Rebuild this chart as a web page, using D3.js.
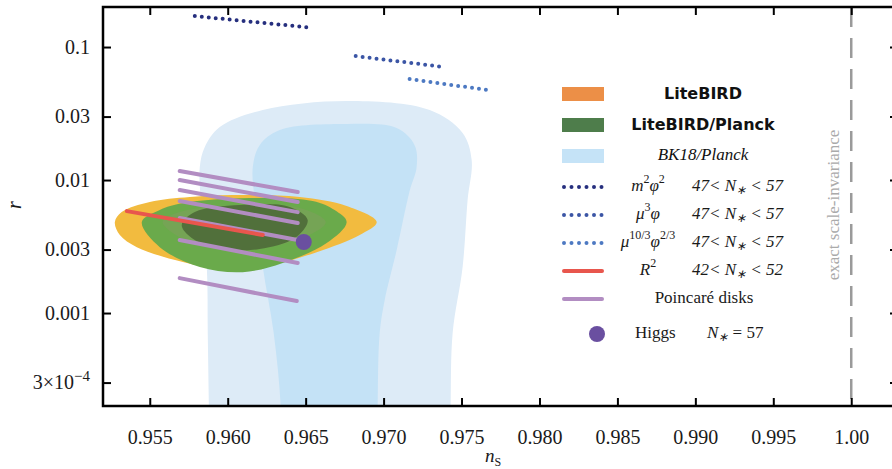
<!DOCTYPE html>
<html>
<head>
<meta charset="utf-8">
<script src="https://cdn.jsdelivr.net/npm/d3@7/dist/d3.min.js"></script>
<style>
  body { margin: 0; background: #fff; }
</style>
</head>
<body>
<svg id="chart" width="892" height="469"></svg>
<script>
// ---- data (ns, r) ----
const xTicks = [0.955, 0.960, 0.965, 0.970, 0.975, 0.980, 0.985, 0.990, 0.995, 1.00];
const xTickLabels = ['0.955', '0.960', '0.965', '0.970', '0.975', '0.980', '0.985', '0.990', '0.995', '1.00'];
const yTicks = [3e-4, 0.001, 0.003, 0.01, 0.03, 0.1];
const yTickLabels = ['3×10^-4', '0.001', '0.003', '0.01', '0.03', '0.1'];

const bk18Outer = [[0.95885, 6e-5], [0.95879, 2e-4], [0.95872, 7.07e-4], [0.95866, 0.00222], [0.95827, 0.00708], [0.95821, 0.01253],
  [0.95853, 0.0177], [0.95949, 0.0250], [0.96225, 0.0336], [0.96763, 0.0393], [0.97296, 0.0336], [0.97507, 0.0226],
  [0.97565, 0.01413], [0.97539, 0.00708], [0.97507, 0.00222], [0.97443, 7.07e-4], [0.97430, 2e-4], [0.97424, 6e-5]];
const bk18Inner = [[0.96345, 6e-5], [0.96340, 2e-4], [0.96295, 7.07e-4], [0.96225, 0.00222], [0.96173, 0.00708], [0.96161, 0.01253],
  [0.96205, 0.0183], [0.96334, 0.0238], [0.96763, 0.0264], [0.97084, 0.0246], [0.97199, 0.0183], [0.97212, 0.01253],
  [0.97167, 0.00826], [0.97084, 0.00298], [0.97007, 0.00125], [0.96975, 7.07e-4], [0.96962, 2e-4], [0.96960, 6e-5]];
const liteBird = [[0.95276, 0.00483], [0.95320, 0.00574], [0.955, 0.00683], [0.95757, 0.00745], [0.96032, 0.00771],
  [0.96462, 0.00745], [0.96763, 0.00638], [0.96956, 0.00483], [0.96847, 0.00386], [0.96571, 0.00287], [0.96250, 0.00226],
  [0.95949, 0.00218], [0.95712, 0.00242], [0.95417, 0.00313], [0.95308, 0.00386]];
const liteBirdPlanck = [[0.95449, 0.00483], [0.95564, 0.00594], [0.95712, 0.00671], [0.96141, 0.00732], [0.96545, 0.00695],
  [0.96686, 0.00594], [0.96763, 0.00483], [0.96635, 0.00336], [0.96353, 0.00238], [0.96096, 0.00203], [0.95821, 0.00222],
  [0.95564, 0.00313]];
const liteBirdPlanckMid = [[0.95583, 0.00483], [0.95692, 0.00574], [0.96077, 0.00649], [0.96462, 0.00616], [0.96629, 0.00483],
  [0.96494, 0.00373], [0.96141, 0.00303], [0.95757, 0.00342]];
const liteBirdPlanckCore = [[0.95705, 0.00459], [0.95789, 0.00574], [0.96077, 0.00649], [0.96398, 0.00627], [0.96513, 0.00500],
  [0.96430, 0.00366], [0.96205, 0.00303], [0.95949, 0.00303], [0.95769, 0.00366]];

const poincare = [
  [[0.95692, 0.01169], [0.96449, 0.00812]],
  [[0.95692, 0.0100], [0.96449, 0.00683]],
  [[0.95692, 0.00841], [0.96449, 0.00574]],
  [[0.95692, 0.00695], [0.96449, 0.00475]],
  [[0.95692, 0.00518], [0.96449, 0.00354]],
  [[0.95692, 0.00354], [0.96449, 0.00238]],
  [[0.95692, 0.00183], [0.96443, 0.00123]]
];
const r2Line = [[0.95353, 0.00584], [0.96225, 0.00386]];
const higgs = [0.96488, 0.00342];
const m2phi2 = [[0.95789, 0.171], [0.96513, 0.1406]];
const mu3phi = [[0.96821, 0.0855], [0.97373, 0.0711]];
const mu103phi23 = [[0.97167, 0.0574], [0.97668, 0.0475]];
const scaleInvariance = 1.0;

const serif = '"Liberation Serif", "Times New Roman", serif';
const sans = '"DejaVu Sans", Verdana, sans-serif';

const svg = d3.select('#chart');
const x = d3.scaleLinear().domain([0.952, 1.003]).range([103, 898]);
const y = d3.scaleLog().domain([2e-4, 0.2]).range([406, 7]);

svg.append('defs').append('clipPath').attr('id', 'plot-clip')
  .append('rect').attr('x', 103).attr('y', 7).attr('width', 795).attr('height', 399);

const plot = svg.append('g').attr('clip-path', 'url(#plot-clip)');

const blob = d3.line().x(d => x(d[0])).y(d => y(d[1])).curve(d3.curveCatmullRomClosed.alpha(0.5));
const seg = d3.line().x(d => x(d[0])).y(d => y(d[1]));

// contours
plot.append('path').attr('d', blob(bk18Outer)).attr('fill', '#ddebf7');
plot.append('path').attr('d', blob(bk18Inner)).attr('fill', '#c4e2f6');
plot.append('path').attr('d', blob(liteBird)).attr('fill', '#f2bb3f');
plot.append('path').attr('d', blob(liteBirdPlanck)).attr('fill', '#6aaa4b');
plot.append('path').attr('d', blob(liteBirdPlanckMid)).attr('fill', '#75a455');
plot.append('path').attr('d', blob(liteBirdPlanckCore)).attr('fill', '#51703b');

// Poincaré disks
plot.selectAll('.poincare').data(poincare).enter().append('path')
  .attr('class', 'poincare')
  .attr('d', seg)
  .attr('stroke', '#b28dc2').attr('stroke-width', 4).attr('stroke-linecap', 'round').attr('fill', 'none');

// R^2
plot.append('path').attr('d', seg(r2Line))
  .attr('stroke', '#e8564d').attr('stroke-width', 4).attr('stroke-linecap', 'round').attr('fill', 'none');

// Higgs
plot.append('circle').attr('cx', x(higgs[0])).attr('cy', y(higgs[1])).attr('r', 8).attr('fill', '#6a4fa0');

// dotted model lines
[[m2phi2, '#262f7e'], [mu3phi, '#3b55a5'], [mu103phi23, '#4d79c2']].forEach(([d, c]) => {
  plot.append('path').attr('d', seg(d))
    .attr('stroke', c).attr('stroke-width', 4).attr('stroke-linecap', 'round')
    .attr('stroke-dasharray', '0 7').attr('fill', 'none');
});

// exact scale invariance
plot.append('line')
  .attr('x1', x(scaleInvariance)).attr('x2', x(scaleInvariance))
  .attr('y1', 7).attr('y2', 406)
  .attr('stroke', '#9a9a9a').attr('stroke-width', 2.5).attr('stroke-dasharray', '20 11');
svg.append('text')
  .attr('transform', `translate(${x(scaleInvariance) - 12},205) rotate(-90)`)
  .attr('text-anchor', 'middle')
  .attr('font-family', serif).attr('font-size', 17).attr('fill', '#aaaaaa')
  .text('exact scale-invariance');

// axes (ticks point inward)
function styleAxis(g) {
  g.select('.domain').remove();
  g.selectAll('line').attr('stroke', '#000').attr('stroke-width', 2);
  g.selectAll('text').attr('font-family', serif).attr('font-size', 20).attr('fill', '#1a1a1a');
}
svg.append('g').attr('transform', 'translate(0,406)')
  .call(d3.axisBottom(x).tickValues(xTicks).tickSizeInner(-8).tickSizeOuter(0).tickPadding(24)
    .tickFormat((d, i) => xTickLabels[i]))
  .call(styleAxis);
svg.append('g').attr('transform', 'translate(0,7)')
  .call(d3.axisTop(x).tickValues(xTicks).tickSizeInner(-8).tickSizeOuter(0).tickFormat(''))
  .call(styleAxis);
const yAxis = svg.append('g').attr('transform', 'translate(103,0)')
  .call(d3.axisLeft(y).tickValues(yTicks).tickSizeInner(-8).tickSizeOuter(0).tickPadding(13)
    .tickFormat((d, i) => yTickLabels[i].split('^')[0]))
  .call(styleAxis);
yAxis.selectAll('.tick text').each(function (d, i) {
  const parts = yTickLabels[i].split('^');
  if (parts.length > 1) {
    d3.select(this).append('tspan').attr('dy', '-0.55em').attr('font-size', 15).text(parts[1].replace('-', '−'));
  }
});
svg.append('g').attr('transform', 'translate(898,0)')
  .call(d3.axisRight(y).tickValues(yTicks).tickSizeInner(-8).tickSizeOuter(0).tickFormat(''))
  .call(styleAxis);

// frame
svg.append('rect').attr('x', 103).attr('y', 7).attr('width', 795).attr('height', 399)
  .attr('fill', 'none').attr('stroke', '#000').attr('stroke-width', 2.5);

// axis titles
svg.append('text').attr('transform', 'translate(21,205) rotate(-90)')
  .attr('text-anchor', 'middle').attr('font-family', serif).attr('font-size', 20)
  .attr('font-style', 'italic').attr('fill', '#1a1a1a').text('r');
const xt = svg.append('text').attr('x', 485).attr('y', 462)
  .attr('font-family', serif).attr('font-size', 19).attr('fill', '#1a1a1a');
xt.append('tspan').attr('font-style', 'italic').text('n');
xt.append('tspan').attr('dy', 4).attr('font-size', 12).text('S');

// ---- legend ----
function rich(g, px, py, anchor, parts) {
  const t = g.append('text').attr('x', px).attr('y', py).attr('text-anchor', anchor)
    .attr('font-family', serif).attr('font-size', 17).attr('fill', '#1a1a1a').attr('dominant-baseline', 'middle');
  let shift = 0;
  parts.forEach(([s, st]) => {
    const sp = t.append('tspan').text(s);
    let target = 0;
    if (st.includes('sup')) target = -7;
    if (st.includes('sub')) target = 4;
    if (target !== shift) { sp.attr('dy', target - shift); shift = target; }
    if (st.includes('sup') || st.includes('sub')) sp.attr('font-size', 12);
    if (st.includes('i')) sp.attr('font-style', 'italic');
  });
  return t;
}

const legend = svg.append('g');
const patchItems = [
  { label: 'LiteBIRD', color: '#ec8f47', y: 94, style: 'bold' },
  { label: 'LiteBIRD/Planck', color: '#4e7d4b', y: 125, style: 'bold' },
  { label: 'BK18/Planck', color: '#c5e3f7', y: 156, style: 'italic' }
];
patchItems.forEach(p => {
  legend.append('rect').attr('x', 562).attr('y', p.y - 7).attr('width', 42).attr('height', 14).attr('fill', p.color);
  const t = legend.append('text').attr('x', 703).attr('y', p.y).attr('text-anchor', 'middle')
    .attr('dominant-baseline', 'middle').attr('fill', '#111').text(p.label);
  if (p.style === 'bold') t.attr('font-family', sans).attr('font-weight', 'bold').attr('font-size', 16);
  else t.attr('font-family', serif).attr('font-style', 'italic').attr('font-size', 17);
});

const n47 = [['47< ', 'i'], ['N', 'i'], ['∗', 'isub'], [' < 57', 'i']];
const n42 = [['42< ', 'i'], ['N', 'i'], ['∗', 'isub'], [' < 52', 'i']];
const lineItems = [
  { name: [['m', 'i'], ['2', 'sup'], ['φ', 'i'], ['2', 'sup']], cond: n47, color: '#262f7e', dots: true, y: 187 },
  { name: [['μ', 'i'], ['3', 'sup'], ['φ', 'i']], cond: n47, color: '#3b55a5', dots: true, y: 215 },
  { name: [['μ', 'i'], ['10/3', 'sup'], ['φ', 'i'], ['2/3', 'sup']], cond: n47, color: '#4d79c2', dots: true, y: 243 },
  { name: [['R', 'i'], ['2', 'sup']], cond: n42, color: '#e8564d', dots: false, y: 271 }
];
lineItems.forEach(it => {
  const l = legend.append('line').attr('x1', 564).attr('x2', 602).attr('y1', it.y).attr('y2', it.y)
    .attr('stroke', it.color).attr('stroke-width', 4).attr('stroke-linecap', 'round');
  if (it.dots) l.attr('stroke-dasharray', '0 7.5');
  rich(legend, 648, it.y, 'middle', it.name);
  rich(legend, 692, it.y, 'start', it.cond);
});
legend.append('line').attr('x1', 564).attr('x2', 602).attr('y1', 299).attr('y2', 299)
  .attr('stroke', '#b28dc2').attr('stroke-width', 4).attr('stroke-linecap', 'round');
rich(legend, 704, 299, 'middle', [['Poincaré disks', '']]);
legend.append('circle').attr('cx', 597).attr('cy', 334).attr('r', 8).attr('fill', '#6a4fa0');
rich(legend, 635, 334, 'start', [['Higgs', '']]);
rich(legend, 707, 334, 'start', [['N', 'i'], ['∗', 'isub'], [' = 57', '']]);
</script>
</body>
</html>
